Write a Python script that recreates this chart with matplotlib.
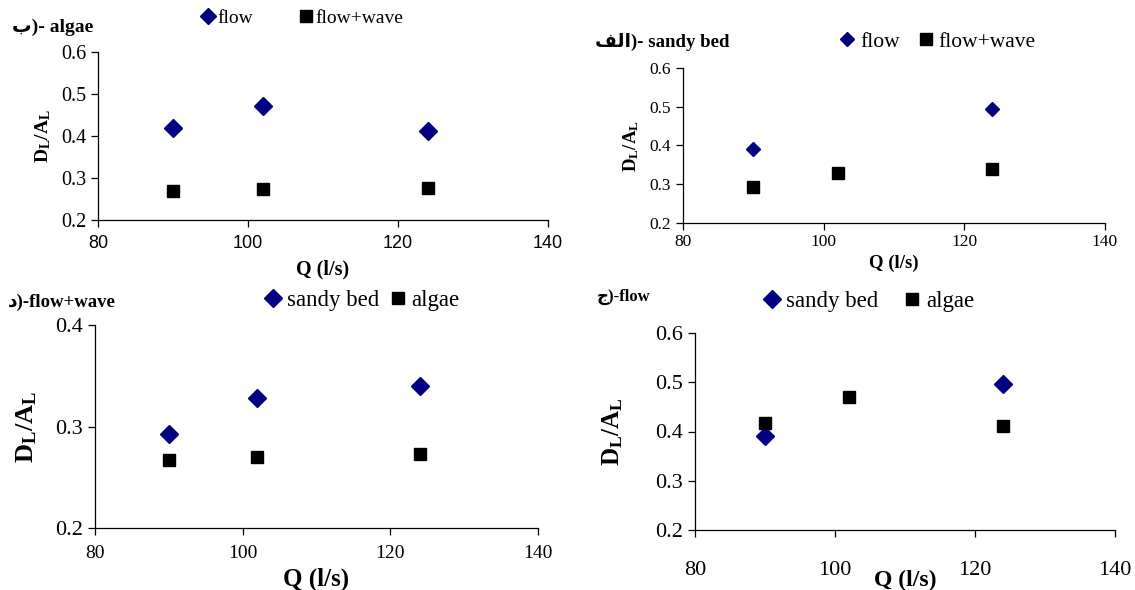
import matplotlib
matplotlib.use("Agg")
import matplotlib.pyplot as plt

plt.rcParams['font.family'] = ['Liberation Serif', 'DejaVu Sans']
plt.rcParams['mathtext.fontset'] = 'custom'
plt.rcParams['mathtext.rm'] = 'Liberation Serif'
plt.rcParams['mathtext.bf'] = 'Liberation Serif:bold'
plt.rcParams['mathtext.it'] = 'Liberation Serif:italic'

# discharge values (l/s)
q_all = [90, 102, 124]
q_sandy_flow = [90, 124]

# algae bed
algae_flow = [0.418, 0.472, 0.411]
algae_flow_wave = [0.268, 0.273, 0.276]
# sandy bed
sandy_flow = [0.391, 0.495]
sandy_flow_wave = [0.293, 0.328, 0.340]
# flow+wave panel (second reading)
fw_sandy = [0.293, 0.328, 0.340]
fw_algae = [0.267, 0.270, 0.273]
# flow panel (second reading)
f_sandy = [0.390, 0.497]
f_algae = [0.418, 0.471, 0.411]

xticks = [80, 100, 120, 140]
yticks_a = [0.2, 0.3, 0.4, 0.5, 0.6]
yticks_c = [0.2, 0.3, 0.4]

titles = ["ب)- algae", "ﻒﻟا)- sandy bed", "د)-flow+wave", "ج)-flow"]

W, H = 1135, 590
fig = plt.figure(figsize=(W / 100, H / 100), dpi=100)

def px_axes(l, r, t, b):
    return fig.add_axes([l / W, 1 - b / H, (r - l) / W, (b - t) / H])

navy = '#000080'


def style(ax, yt, fs_y, fs_x, xfam='Liberation Serif', xpad=3):
    ax.set_xlim(80, 140)
    ax.set_ylim(yt[0], yt[-1])
    ax.set_xticks(xticks)
    ax.set_yticks(yt)
    ax.set_yticklabels(['%.1f' % v for v in yt], fontsize=fs_y)
    ax.set_xticklabels([str(v) for v in xticks], fontsize=fs_x, family=xfam)
    for s in ['top', 'right']:
        ax.spines[s].set_visible(False)
    for s in ['left', 'bottom']:
        ax.spines[s].set_linewidth(0.9)
    ax.tick_params(direction='out', length=5, width=0.9)
    ax.tick_params(axis='x', pad=xpad)


# panel ب - algae
ax1 = px_axes(98, 548, 52, 220)
ax1.plot(q_all, algae_flow, 'D', color=navy, ms=9, label='flow')
ax1.plot(q_all, algae_flow_wave, 's', color='black', ms=9, label='flow+wave')
style(ax1, yticks_a, 14.5, 13, xfam='Liberation Sans', xpad=6)
ax1.set_ylabel(r'$\mathbf{D_L/A_L}$', fontsize=14, labelpad=6)
ax1.set_xlabel('Q (l/s)', fontsize=14.5, fontweight='bold', labelpad=5)
fig.text(12 / W, 1 - 27 / H, titles[0], fontsize=14, fontweight='bold', va='center')
ax1.legend(loc='center', bbox_to_anchor=(0.45, 1.2), ncol=2, frameon=False,
           fontsize=14, handletextpad=0.0, columnspacing=2.2, markerscale=0.9,
           handlelength=1.0)

# panel الف - sandy bed
ax2 = px_axes(683, 1105, 68, 223)
ax2.plot(q_sandy_flow, sandy_flow, 'D', color=navy, ms=7, label='flow')
ax2.plot(q_all, sandy_flow_wave, 's', color='black', ms=9, label='flow+wave')
style(ax2, yticks_a, 12.5, 12.5)
ax2.set_ylabel(r'$\mathbf{D_L/A_L}$', fontsize=13.5, labelpad=6)
ax2.set_xlabel('Q (l/s)', fontsize=13.5, fontweight='bold', labelpad=3)
fig.text(595 / W, 1 - 42 / H, titles[1], fontsize=13.5, fontweight='bold', va='center')
ax2.legend(loc='center', bbox_to_anchor=(0.6, 1.17), ncol=2, frameon=False,
           fontsize=15.5, handletextpad=0.1, columnspacing=0.7, markerscale=1.0,
           handlelength=1.0)

# panel د - flow+wave
ax3 = px_axes(95, 538, 325, 528)
ax3.plot(q_all, fw_sandy, 'D', color=navy, ms=9, label='sandy bed')
ax3.plot(q_all, fw_algae, 's', color='black', ms=9, label='algae')
style(ax3, yticks_c, 16, 14, xpad=7)
ax3.set_ylabel(r'$\mathbf{D_L/A_L}$', fontsize=19, labelpad=12)
ax3.set_xlabel('Q (l/s)', fontsize=18, fontweight='bold', labelpad=4)
fig.text(8 / W, 1 - 302 / H, titles[2], fontsize=13.5, fontweight='bold', va='center')
ax3.legend(loc='center', bbox_to_anchor=(0.6, 1.12), ncol=2, frameon=False,
           fontsize=16.5, handletextpad=0.1, columnspacing=0.3, markerscale=1.0,
           handlelength=1.0)

# panel ج - flow
ax4 = px_axes(695, 1115, 333, 530)
ax4.plot(q_sandy_flow, f_sandy, 'D', color=navy, ms=9, label='sandy bed')
ax4.plot(q_all, f_algae, 's', color='black', ms=9, label='algae')
style(ax4, yticks_a, 16, 16, xpad=17)
ax4.set_ylabel(r'$\mathbf{D_L/A_L}$', fontsize=18, labelpad=22)
ax4.set_xlabel('Q (l/s)', fontsize=17, fontweight='bold', labelpad=-7)
fig.text(597 / W, 1 - 297 / H, titles[3], fontsize=12, fontweight='bold', va='center')
ax4.legend(loc='center', bbox_to_anchor=(0.41, 1.16), ncol=2, frameon=False,
           fontsize=16.5, handletextpad=0.1, columnspacing=1.0, markerscale=1.0,
           handlelength=1.0)

fig.savefig('out.png', dpi=100)
